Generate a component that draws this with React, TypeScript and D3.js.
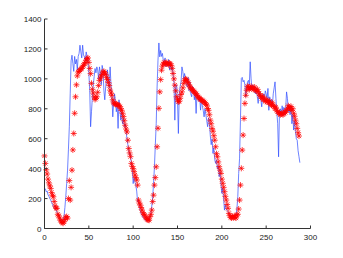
import React from 'react'
import * as d3 from 'd3'

// measured signal (blue line), one value per sample
const measured = [
  270, 265, 245, 250, 225, 215, 200, 190, 175, 160,
  148, 140, 130, 123, 110, 95, 90, 70, 65, 57,
  50, 57, 80, 140, 212, 300, 390, 530, 680, 900,
  1120, 1158, 1103, 1050, 1150, 1100, 1130, 1060, 1150, 1170,
  1225, 1180, 1140, 1225, 1160, 1147, 1120, 1180, 1150, 1120,
  1040, 924, 680, 780, 880, 960, 1014, 1069, 1040, 1080,
  1060, 1000, 1080, 1040, 960, 1090, 1058, 920, 860, 946,
  1000, 1060, 1000, 940, 1080, 960, 880, 746, 840, 900,
  850, 780, 820, 669, 860, 800, 724, 780, 700, 740,
  680, 700, 650, 600, 560, 520, 490, 500, 430, 400,
  300, 340, 310, 290, 250, 179, 190, 150, 120, 101,
  90, 75, 68, 60, 55, 52, 57, 55, 60, 80,
  101, 150, 212, 300, 413, 560, 702, 946, 1125, 1240,
  1147, 1190, 1150, 1170, 1120, 1100, 1140, 1080, 1110, 1090,
  1130, 1060, 1100, 1058, 1080, 1030, 980, 724, 950, 960,
  860, 635, 900, 950, 980, 1080, 1050, 1000, 1036, 1000,
  960, 946, 1010, 920, 980, 900, 880, 950, 930, 860,
  900, 769, 900, 880, 850, 880, 791, 860, 820, 790,
  746, 800, 760, 720, 680, 740, 702, 620, 560, 600,
  502, 540, 460, 435, 460, 400, 420, 346, 380, 300,
  235, 270, 200, 123, 160, 130, 120, 112, 100, 90,
  80, 75, 70, 80, 72, 85, 90, 130, 212, 368,
  470, 724, 1003, 1010, 980, 990, 960, 880, 947, 980,
  990, 960, 1114, 1000, 924, 960, 940, 910, 900, 940,
  880, 836, 900, 913, 860, 813, 880, 900, 860, 920,
  900, 870, 936, 790, 880, 850, 860, 820, 900, 940,
  980, 870, 780, 700, 479, 780, 800, 760, 820, 780,
  810, 760, 800, 913, 870, 780, 800, 760, 820, 700,
  760, 658, 720, 650, 600, 590, 520, 480, 440,
]

// estimated signal (red asterisks)
const estimated = [
  485, 435, 392, 364, 330, 305, 285, 268, 240, 222,
  212, 180, 150, 136, 135, 95, 85, 70, 55, 45,
  40, 35, 45, 60, 75, 80, 70, 200, 320, 190,
  275, 390, 525, 635, 770, 880, 960, 1020, 1045, 1050,
  1060, 1065, 1070, 1080, 1090, 1100, 1110, 1125, 1135, 1140,
  1110, 1070, 1035, 970, 930, 905, 880, 862, 870, 880,
  910, 955, 990, 1005, 1020, 1030, 1045, 1050, 1040, 1030,
  1010, 995, 975, 955, 925, 905, 890, 860, 840, 835,
  830, 832, 828, 825, 822, 815, 800, 790, 770, 748,
  720, 690, 665, 645, 590, 535, 505, 480, 435, 415,
  400, 380, 357, 340, 324, 290, 190, 170, 157, 140,
  123, 105, 95, 90, 75, 68, 60, 57, 55, 79,
  95, 123, 180, 223, 290, 340, 412, 546, 670, 803,
  913, 995, 1058, 1085, 1100, 1110, 1105, 1100, 1110, 1100,
  1095, 1105, 1100, 1090, 1070, 1036, 1000, 958, 920, 880,
  860, 846, 850, 870, 895, 913, 940, 970, 990, 1000,
  995, 985, 975, 960, 946, 940, 930, 925, 920, 913,
  905, 900, 890, 880, 875, 869, 862, 860, 855, 850,
  846, 840, 830, 824, 802, 790, 760, 724, 700, 669,
  650, 620, 590, 546, 500, 479, 445, 413, 390, 368,
  330, 302, 275, 246, 215, 190, 160, 135, 101, 85,
  75, 70, 80, 72, 85, 75, 70, 90, 95, 130,
  190, 290, 402, 524, 624, 735, 836, 890, 924, 950,
  945, 930, 940, 950, 935, 940, 930, 945, 925, 920,
  930, 915, 900, 890, 880, 870, 885, 860, 870, 850,
  860, 845, 855, 840, 850, 830, 825, 840, 820, 815,
  800, 810, 790, 780, 770, 775, 760, 765, 770, 760,
  770, 780, 775, 790, 800, 820, 810, 800, 815, 790,
  800, 770, 750, 724, 700, 669, 640, 618,
]

const xTicks = [0, 50, 100, 150, 200, 250, 300]
const yTicks = [0, 200, 400, 600, 800, 1000, 1200, 1400]

export default function App() {
  const W = 343, H = 258
  const x = d3.scaleLinear().domain([0, 300]).range([44.5, 310.5])
  const y = d3.scaleLinear().domain([0, 1400]).range([228.5, 19])

  const line = d3.line<number>().x((d, i) => x(i)).y(d => y(d))

  // matlab style '*' marker
  const r = 3
  const star = `M${-r},0L${r},0M0,${-r}L0,${r}M${-r * 0.7},${-r * 0.7}L${r * 0.7},${r * 0.7}M${-r * 0.7},${r * 0.7}L${r * 0.7},${-r * 0.7}`

  const axisColor = '#333'
  const font = 'Liberation Sans, Arial, Helvetica, sans-serif'

  return (
    <svg width={W} height={H} style={{ position: 'absolute', left: 0, top: 0, background: '#fff' }}>
      <path d={line(measured) || ''} fill="none" stroke="#2f4dff" strokeWidth={0.7} />
      <g stroke="#ff0000" strokeWidth={0.75} fill="none">
        {estimated.map((v, i) => (
          <path key={i} d={star} transform={`translate(${x(i)},${y(v)})`} />
        ))}
      </g>
      {/* axes */}
      <line x1={x(0)} x2={x(300)} y1={y(0)} y2={y(0)} stroke={axisColor} strokeWidth={1} />
      <line x1={x(0)} x2={x(0)} y1={y(0)} y2={y(1400)} stroke={axisColor} strokeWidth={1} />
      {xTicks.map(t => (
        <g key={t}>
          <line x1={x(t)} x2={x(t)} y1={y(0)} y2={y(0) - 3} stroke={axisColor} />
          <text x={x(t)} y={y(0) + 11} fontSize={8} fontFamily={font} textAnchor="middle" fill="#222">{t}</text>
        </g>
      ))}
      {yTicks.map(t => (
        <g key={t}>
          <line x1={x(0)} x2={x(0) + 3} y1={y(t)} y2={y(t)} stroke={axisColor} />
          <text x={x(0) - 3} y={y(t) + 3} fontSize={8} fontFamily={font} textAnchor="end" fill="#222">{t}</text>
        </g>
      ))}
    </svg>
  )
}
